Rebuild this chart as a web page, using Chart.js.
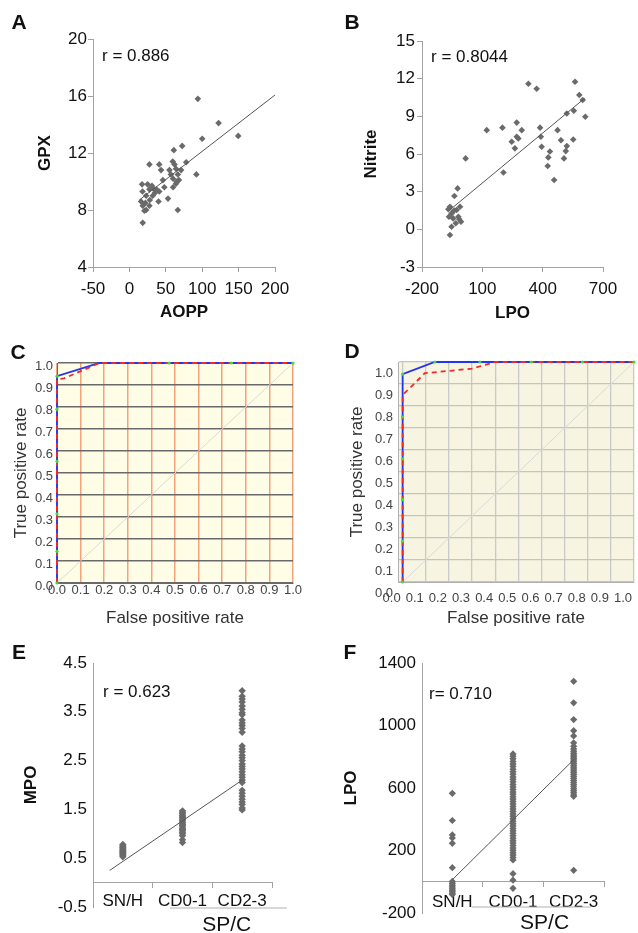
<!DOCTYPE html>
<html>
<head>
<meta charset="utf-8">
<title>Oxidative stress markers</title>
<script src="https://cdn.jsdelivr.net/npm/chart.js@4.4.1/dist/chart.umd.min.js"></script>
<style>
  body { margin: 0; width: 638px; height: 933px; position: relative; overflow: hidden; background: #fff;
         font-family: "Liberation Sans", Arial, sans-serif; color: #111; }
  canvas { position: absolute; }
  .tag { position: absolute; transform: translate(-50%, -50%); font-size: 21px; font-weight: bold; line-height: 1; }
  .r { position: absolute; transform: translateY(-50%); font-size: 17px; line-height: 1; white-space: nowrap; }
</style>
</head>
<body>
<canvas id="chartA" width="300" height="330" style="left:0;top:0"></canvas>
<canvas id="chartB" width="318" height="330" style="left:320px;top:0"></canvas>
<canvas id="chartC" width="310" height="290" style="left:0;top:340px"></canvas>
<canvas id="chartD" width="318" height="290" style="left:320px;top:340px"></canvas>
<canvas id="chartE" width="310" height="298" style="left:0;top:635px"></canvas>
<canvas id="chartF" width="318" height="298" style="left:320px;top:635px"></canvas>

<div class="tag" style="left:19px;top:21px">A</div>
<div class="tag" style="left:352px;top:21px">B</div>
<div class="tag" style="left:18px;top:351px">C</div>
<div class="tag" style="left:352px;top:350px">D</div>
<div class="tag" style="left:19px;top:651px">E</div>
<div class="tag" style="left:350px;top:651px">F</div>

<div class="r" style="left:102px;top:55px">r = 0.886</div>
<div class="r" style="left:431px;top:56px">r = 0.8044</div>
<div class="r" style="left:103px;top:691px">r = 0.623</div>
<div class="r" style="left:429px;top:693px">r= 0.710</div>

<script>
Chart.defaults.font.family = '"Liberation Sans", Arial, sans-serif';
Chart.defaults.color = '#111';
Chart.defaults.animation = false;
Chart.defaults.events = [];
Chart.defaults.plugins.legend.display = false;
Chart.defaults.plugins.tooltip.enabled = false;

// A - AOPP vs GPX
const aoppX = [94, 122.5, 149.5, 100, 72.5, 61, 27.5, 41, 43.5, 59.5, 62, 64, 55, 78, 71, 92, 57, 66.5, 60, 64,
               60, 68, 46, 17.4, 25, 31, 37, 41, 27.5, 18, 23, 32, 53, 40, 66.5, 18.3, 16, 18.3, 23, 27.5,
               20.6, 35, 48, 65, 22, 28, 33];
const gpxY = [15.8, 14.1, 13.2, 13.0, 12.5, 12.2, 11.2, 11.2, 10.8, 11.4, 11.2, 10.9, 10.8, 11.35, 10.8, 10.5, 10.5, 10.5, 10.2, 9.85,
              9.6, 10.1, 10.1, 9.8, 9.8, 9.7, 9.45, 9.3, 9.45, 9.3, 9.0, 9.0, 8.8, 8.6, 8.0, 7.1, 8.6, 8.3, 8.0, 8.3,
              7.95, 9.2, 9.6, 10.0, 8.5, 8.7, 9.5];
const aoppTicks = [-50, 0, 50, 100, 150, 200];
const gpxTicks = [4, 8, 12, 16, 20];
const fitAx = [13.6, 200];
const fitAy = [8.7, 16.07];

// B - LPO vs Nitrite
const lpoX = [329, 370, 561, 582, 599, 612, 555, 520, 122, 200, 271, 296, 271, 246, 279, 262, 387, 391, 395, 474,
              491, 552, 436, 428, 425, 520, 515, 506, 457, 17, 205, -23, -39, -61, -69, -11, -28, -53, -66, -45,
              -19, -6, -32, -53, -61, -40, -15];
const nitY = [11.6, 11.2, 11.75, 10.7, 10.3, 8.97, 9.44, 9.23, 7.9, 8.1, 8.5, 7.9, 7.37, 6.98, 7.24, 6.45, 8.1, 7.37, 6.58, 7.9,
              7.1, 7.16, 6.2, 5.73, 5.04, 6.63, 6.23, 5.65, 3.93, 5.65, 4.53, 3.26, 2.65, 1.8, 1.6, 1.8, 1.54, 1.27, 1.0, 0.87,
              1.0, 0.6, 0.48, 0.21, -0.45, 1.5, 0.8];
const lpoTicks = [-200, 100, 400, 700];
const nitTicks = [-3, 0, 3, 6, 9, 12, 15];
const fitBx = [-62, 609];
const fitBy = [1.54, 10.44];

// C / D - ROC curves
const rocTicks = [0, 0.1, 0.2, 0.3, 0.4, 0.5, 0.6, 0.7, 0.8, 0.9, 1.0];
const diagRate = [0, 1];
const cBlueFpr = [0, 0, 0.18, 1];
const cBlueTpr = [0, 0.94, 1, 1];
const cRedFpr = [0, 0, 0.03, 0.18, 1];
const cRedTpr = [0, 0.925, 0.93, 1, 1];
const cDotFpr = [0, 0, 0, 0, 0, 0, 0.475, 0.739, 1];
const cDotTpr = [0, 0.144, 0.314, 0.553, 0.79, 0.94, 1, 1, 1];
const dBlueFpr = [0, 0, 0.139, 1];
const dBlueTpr = [0, 0.945, 1, 1];
const dRedFpr = [0, 0, 0.096, 0.30, 0.40, 1];
const dRedTpr = [0, 0.85, 0.949, 0.97, 1, 1];
const dDotFpr = [0, 0, 0, 0, 0, 0, 0.139, 0.334, 0.556, 0.777, 1];
const dDotTpr = [0, 0.186, 0.374, 0.56, 0.75, 0.945, 1, 1, 1, 1, 1];

// E / F - groups
const categories = ['SN/H', 'CD0-1', 'CD2-3'];
const catTicks = [1, 2, 3];
const mpoSN = [0.53, 0.56, 0.58, 0.6, 0.62, 0.63, 0.65, 0.67, 0.69, 0.71, 0.73, 0.75, 0.78];
const mpoCD01 = [0.82, 0.88, 0.96, 1.0, 1.03, 1.06, 1.09, 1.11, 1.14, 1.17, 1.19, 1.22, 1.24, 1.27, 1.3, 1.33,
                 1.35, 1.38, 1.41, 1.44, 1.47];
const mpoCD23 = [3.93, 3.82, 3.76, 3.7, 3.62, 3.55, 3.48, 3.44, 3.33, 3.27, 3.22, 3.16, 3.08, 2.8, 2.74, 2.68,
                 2.61, 2.56, 2.5, 2.43, 2.38, 2.33, 2.27, 2.21, 2.16, 2.1, 2.05, 1.89, 1.83, 1.77, 1.71, 1.65,
                 1.6, 1.53, 1.49];
const mpoTicks = [-0.5, 0.5, 1.5, 2.5, 3.5, 4.5];
const fitEx = [0.78, 3.0];
const fitEy = [0.25, 2.1];

const lpoSN = [566, 392, 300, 280, 246, 90, 2, -10, -22, -34, -45, -55, -64, -73, -82];
const lpoCD01 = [818, 803, 787, 770, 754, 738, 720, 704, 688, 671, 656, 640, 623, 607, 591, 574, 560, 544, 529,
                 513, 498, 481, 466, 450, 434, 419, 404, 388, 372, 357, 341, 326, 310, 294, 279, 263, 248, 232,
                 216, 201, 186, 171, 156, 140, 52, 10, -42];
const lpoCD23 = [1283, 1145, 1038, 967, 933, 889, 868, 850, 836, 822, 811, 800, 790, 779, 768, 757, 745, 733,
                 721, 709, 698, 686, 673, 661, 648, 636, 623, 610, 596, 583, 570, 556, 547, 73];
const lpoGroupTicks = [-200, 200, 600, 1000, 1400];
const fitFx = [1.0, 3.0];
const fitFy = [13, 781];

// helpers
function pts(xs, ys) { return xs.map((x, i) => ({x: x, y: ys[i]})); }
function groupPts(groups) {
  let out = [];
  groups.forEach((vals, g) => vals.forEach(v => out.push({x: catTicks[g], y: v})));
  return out;
}
function fixedTicks(list) { return s => { s.ticks = list.map(v => ({value: v})); }; }
function sizeY(w) { return s => { s.width = w; s.paddingTop = 0; s.paddingBottom = 0; s.paddingLeft = 0; s.paddingRight = 0; }; }
function sizeX(h) { return s => { s.height = h; s.paddingTop = 0; s.paddingBottom = 0; s.paddingLeft = 0; s.paddingRight = 0; }; }

const axisGray = '#a3a3a3';

const plotBg = {
  id: 'plotBg',
  beforeDraw(chart, args, opts) {
    const a = chart.chartArea;
    chart.ctx.save();
    chart.ctx.fillStyle = opts.color;
    chart.ctx.fillRect(a.left, a.top, a.right - a.left, a.bottom - a.top);
    chart.ctx.restore();
  }
};

// second level of the category axis ("SP/C")
const groupLabel = {
  id: 'groupLabel',
  afterDraw(chart, args, opts) {
    const x = chart.scales.x;
    const ctx = chart.ctx;
    const base = chart.chartArea.bottom;
    ctx.save();
    ctx.strokeStyle = '#b0b0b0';
    ctx.lineWidth = 1;
    ctx.beginPath();
    ctx.moveTo(x.getPixelForValue(opts.from), base + opts.lineDy);
    ctx.lineTo(x.getPixelForValue(opts.to), base + opts.lineDy);
    ctx.stroke();
    ctx.fillStyle = '#111';
    ctx.font = '21px "Liberation Sans", Arial, sans-serif';
    ctx.textAlign = 'center';
    ctx.textBaseline = 'middle';
    ctx.fillText(opts.text, x.getPixelForValue(opts.at), base + opts.textDy);
    ctx.restore();
  }
};

// datasets listed first are painted on top, so the fit line goes first
function scatterChart(id, points, fit, pad, xScale, yScale, radius, extra) {
  let cfg = {
    type: 'scatter',
    data: {
      datasets: [
        { data: fit, showLine: true, pointRadius: 0, borderColor: '#555', borderWidth: 1 },
        { data: points, pointStyle: 'rectRot', pointRadius: radius, backgroundColor: '#6a6a6a', borderWidth: 0 }
      ]
    },
    options: {
      responsive: false,
      layout: { padding: pad },
      scales: { x: xScale, y: yScale },
      plugins: {}
    }
  };
  if (extra) {
    cfg.plugins = [groupLabel];
    cfg.options.plugins.groupLabel = extra;
  }
  new Chart(document.getElementById(id), cfg);
}

function valueAxis(list, size, isX, title, titlePad, tickPad, tickLen) {
  return {
    type: 'linear',
    min: list[0],
    max: list[list.length - 1],
    afterBuildTicks: fixedTicks(list),
    afterFit: isX ? sizeX(size) : sizeY(size),
    ticks: { font: { size: 17 }, padding: tickPad, maxRotation: 0, autoSkip: false, callback: v => String(v) },
    grid: { drawOnChartArea: false, drawTicks: tickLen > 0, tickLength: tickLen, color: axisGray },
    border: { color: axisGray },
    title: { display: !!title, text: title, color: '#111', font: { size: 17, weight: 'bold' }, padding: titlePad }
  };
}

function categoryAxis(labelPad) {
  return {
    type: 'linear',
    min: 0.5,
    max: 3.5,
    position: { y: 0 },
    afterBuildTicks: fixedTicks(catTicks),
    afterFit: sizeX(30),
    ticks: { font: { size: 17 }, padding: labelPad, maxRotation: 0, autoSkip: false, callback: (v, i) => categories[i] },
    grid: { offset: true, drawOnChartArea: false, tickLength: 5, color: axisGray },
    border: { color: axisGray }
  };
}

// A
scatterChart('chartA', pts(aoppX, gpxY), pts(fitAx, fitAy),
  { left: 0, top: 39, right: 25, bottom: 7 },
  valueAxis(aoppTicks, 56, true, 'AOPP', 0, 7, 5),
  valueAxis(gpxTicks, 93, false, 'GPX', { top: 35, bottom: 0 }, 1, 5), 3.3);

// B
scatterChart('chartB', pts(lpoX, nitY), pts(fitBx, fitBy),
  { left: 0, top: 41, right: 35, bottom: 6 },
  valueAxis(lpoTicks, 57, true, 'LPO', 0, 7, 5),
  valueAxis(nitTicks, 102, false, 'Nitrite', { top: 41, bottom: 0 }, 2, 5), 3.3);

// E
scatterChart('chartE', groupPts([mpoSN, mpoCD01, mpoCD23]), pts(fitEx, fitEy),
  { left: 0, top: 28, right: 38, bottom: 26 },
  categoryAxis(4),
  valueAxis(mpoTicks, 93, false, 'MPO', { top: 21.5, bottom: 0 }, 6, 0), 3.7,
  { text: 'SP/C', from: 1.79, to: 3.75, at: 2.74, lineDy: 1, textDy: 18 });

// F
scatterChart('chartF', groupPts([lpoSN, lpoCD01, lpoCD23]), pts(fitFx, fitFy),
  { left: 0, top: 28, right: 34, bottom: 20 },
  categoryAxis(5),
  valueAxis(lpoGroupTicks, 102, false, 'LPO', { top: 21, bottom: 0 }, 6, 0), 3.6,
  { text: 'SP/C', from: 1.32, to: 3.28, at: 2.52, lineDy: -6, textDy: 10 });

// ROC panels (green points on top, then red dashed, then blue, then the diagonal)
function rocChart(id, o) {
  new Chart(document.getElementById(id), {
    type: 'scatter',
    data: {
      datasets: [
        { data: o.dots, pointRadius: 1.6, backgroundColor: '#3fdc3f', borderWidth: 0, clip: false },
        { data: o.red, showLine: true, pointRadius: 0, borderColor: '#f02a2a', borderWidth: 1.8, borderDash: [5, 4], clip: false },
        { data: o.blue, showLine: true, pointRadius: 0, borderColor: '#2236f0', borderWidth: 1.8, clip: false },
        { data: pts(diagRate, diagRate), showLine: true, pointRadius: 0, borderColor: '#d9d9d9', borderWidth: 1 }
      ]
    },
    plugins: [plotBg],
    options: {
      responsive: false,
      layout: { padding: o.pad },
      plugins: { plotBg: { color: o.bg } },
      scales: {
        x: {
          type: 'linear', min: o.xMin, max: 1,
          afterBuildTicks: fixedTicks(rocTicks),
          afterFit: sizeX(o.xh),
          ticks: { font: { size: 13 }, color: '#444', padding: o.xPad, labelOffset: o.xLabelOffset,
                   minRotation: 0, maxRotation: 0, autoSkip: false, callback: v => v.toFixed(1) },
          grid: { color: o.vGrid, lineWidth: o.vWidth, drawTicks: false },
          border: { color: o.border },
          title: { display: true, text: 'False positive rate', color: '#333', font: { size: 17 }, padding: 0 }
        },
        y: {
          type: 'linear', min: 0, max: 1,
          afterBuildTicks: fixedTicks(rocTicks),
          afterFit: sizeY(o.yw),
          ticks: { font: { size: 13 }, color: '#444', padding: o.yPad, labelOffset: o.yLabelOffset,
                   autoSkip: false, callback: v => v.toFixed(1) },
          grid: { color: o.hGrid, lineWidth: o.hWidth, drawTicks: false },
          border: { color: o.border },
          title: { display: true, text: 'True positive rate', color: '#333', font: { size: 17 }, padding: { top: o.titlePad, bottom: 0 } }
        }
      }
    }
  });
}

rocChart('chartC', {
  blue: pts(cBlueFpr, cBlueTpr), red: pts(cRedFpr, cRedTpr), dots: pts(cDotFpr, cDotTpr),
  pad: { left: 0, top: 23, right: 17, bottom: 1 }, xh: 46, yw: 57, xMin: 0,
  bg: '#fffde6', vGrid: '#f4a27c', vWidth: 1.5, hGrid: '#6a6a6a', hWidth: 1.5, border: '#6a6a6a',
  xPad: 0, xLabelOffset: 0, yPad: 4, yLabelOffset: 3, titlePad: 11.5
});

rocChart('chartD', {
  blue: pts(dBlueFpr, dBlueTpr), red: pts(dRedFpr, dRedTpr), dots: pts(dDotFpr, dDotTpr),
  pad: { left: 0, top: 22, right: 2, bottom: 1 }, xh: 47, yw: 78, xMin: -0.02,
  bg: '#f7f5e1', vGrid: '#c9c9c9', vWidth: 1.3, hGrid: '#c4c4c4', hWidth: 1.3, border: '#b0b0b0',
  xPad: 9, xLabelOffset: -11, yPad: 5, yLabelOffset: 11, titlePad: 26.8
});
</script>
</body>
</html>
